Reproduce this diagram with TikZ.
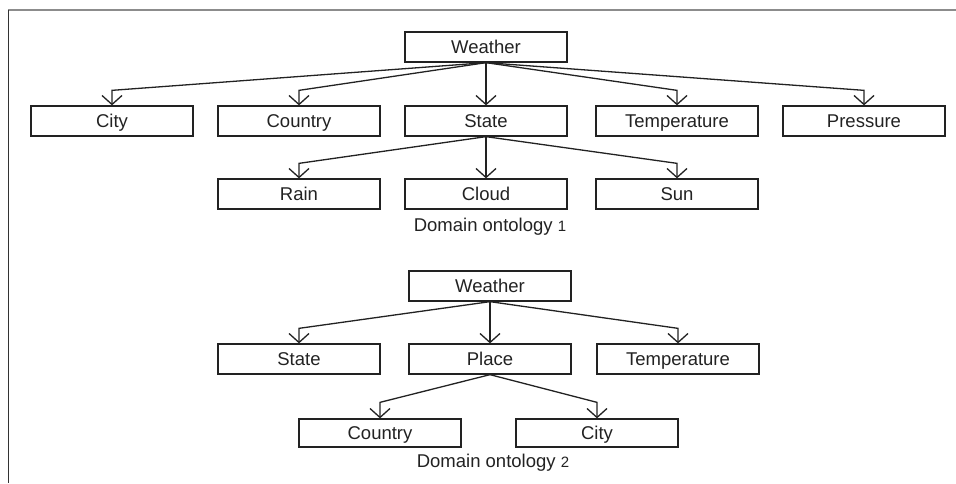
\documentclass[tikz,border=0pt]{standalone}
\usepackage{fontspec}
\setmainfont{Liberation Sans}
\usetikzlibrary{arrows.meta}

\definecolor{ink}{HTML}{222222}

\begin{document}
\begin{tikzpicture}[x=1pt,y=-1pt,
    box/.style={draw=ink, line width=1.3pt, minimum width=162pt, minimum height=30pt,
                inner sep=0pt, text height=13.3pt, text depth=0pt,
                text=ink, font=\fontsize{18.5}{22}\selectfont},
    arr/.style={draw=ink, line width=1.3pt, -{Straight Barb[length=9pt,width=20pt]}},
    caption/.style={text=ink, font=\fontsize{18.5}{22}\selectfont}]

\useasboundingbox (0,0) rectangle (956,483);
\draw[black!45, line width=1.5pt] (8,10) -- (956,10);
\draw[black!80, line width=1.3pt] (8.5,10) -- (8.5,483);

% ontology 1
\node[box] (w1) at (486,47) {Weather};

\foreach \n/\t/\x in {c1/City/112, n1/Country/299, s1/State/486, t1/Temperature/677, p1/Pressure/864}
    \node[box] (\n) at (\x,121) {\t};

\foreach \n/\t/\x in {r1/Rain/299, k1/Cloud/486, u1/Sun/677}
    \node[box] (\n) at (\x,194) {\t};

\node[caption] (d1) at (490,227) {Domain ontology {\fontsize{15}{15}\selectfont 1}};

\draw[arr] (w1.south) -- (s1.north);
\foreach \n in {c1,n1,t1,p1}
    \draw[arr] (w1.south) -- ([yshift=15pt]\n.north) -- (\n.north);

\draw[arr] (s1.south) -- (k1.north);
\foreach \n in {r1,u1}
    \draw[arr] (s1.south) -- ([yshift=15pt]\n.north) -- (\n.north);

% ontology 2
\node[box] (w2) at (490,286) {Weather};

\foreach \n/\t/\x in {s2/State/299, l2/Place/490, t2/Temperature/678}
    \node[box] (\n) at (\x,359) {\t};

\foreach \n/\t/\x in {n2/Country/380, c2/City/597}
    \node[box, minimum height=28pt] (\n) at (\x,433) {\t};

\node[caption] (d2) at (493,463) {Domain ontology {\fontsize{15}{15}\selectfont 2}};

\draw[arr] (w2.south) -- (l2.north);
\foreach \n in {s2,t2}
    \draw[arr] (w2.south) -- ([yshift=15pt]\n.north) -- (\n.north);

\foreach \n in {n2,c2}
    \draw[arr] (l2.south) -- ([yshift=16pt]\n.north) -- (\n.north);

\end{tikzpicture}
\end{document}
